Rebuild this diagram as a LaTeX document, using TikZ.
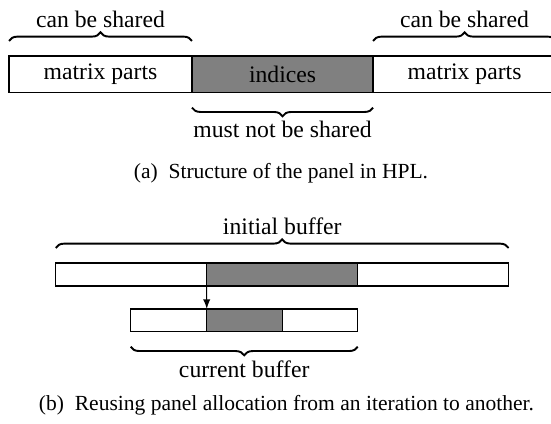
\documentclass[tikz,border=0pt]{standalone}
\usepackage{fontspec}
\setmainfont{Liberation Serif}
\usetikzlibrary{positioning,decorations.pathreplacing}

\tikzset{
  cell/.style={draw, line width=0.55pt, inner sep=0pt, outer sep=0pt, anchor=west, font=\fontsize{9.9}{12}\selectfont},
  idx/.style={cell, fill=black!50},
  lbl/.style={anchor=base, inner sep=0pt, font=\fontsize{9.9}{12}\selectfont},
  subcap/.style={anchor=base, inner sep=0pt, font=\fontsize{9}{11}\selectfont},
  brc/.style={decorate, decoration={brace, amplitude=3.6pt}, line width=0.8pt}
}

\begin{document}
\begin{tikzpicture}[x=0.418pt, y=-0.418pt]
\useasboundingbox (0,0) rectangle (551,424);

\node[cell, minimum width=76.5pt, minimum height=15.3pt] (partL) at (9,74.3) {matrix parts};
\node[idx, minimum width=75.7pt, minimum height=15.3pt, right=0pt of partL] (idxA) {indices};
\node[cell, minimum width=76.5pt, minimum height=15.3pt, right=0pt of idxA] (partR) {matrix parts};

\draw[brc] ([yshift=6.3pt]partL.north west) -- ([yshift=6.3pt]partL.north east);
\draw[brc] ([yshift=6.3pt]partR.north west) -- ([yshift=6.3pt]partR.north east);
\draw[brc] ([yshift=-6.3pt]idxA.south east) -- ([yshift=-6.3pt]idxA.south west);

\node[lbl] (shareL) at (100.5,27) {can be shared};
\node[lbl] (shareR) at (464.5,27) {can be shared};
\node[lbl] (noshare) at (282.5,138) {must not be shared};
\node[subcap] (capA) at (281,178) {(a)\enspace Structure of the panel in HPL.};

\node[cell, minimum width=63.1pt, minimum height=9.6pt] (initL) at (55.7,274.5) {};
\node[idx, minimum width=63.1pt, minimum height=9.6pt, right=0pt of initL] (initM) {};
\node[cell, minimum width=63.1pt, minimum height=9.6pt, right=0pt of initM] (initR) {};

\node[cell, minimum width=31.8pt, minimum height=9.5pt] (curL) at (130.7,320.3) {};
\node[idx, minimum width=31.6pt, minimum height=9.5pt, right=0pt of curL] (curM) {};
\node[cell, minimum width=31.5pt, minimum height=9.5pt, right=0pt of curM] (curR) {};

\draw[-latex, line width=0.4pt] (initM.south west) -- (curM.north west);

\draw[brc] ([yshift=6.3pt]initL.north west) -- ([yshift=6.3pt]initR.north east);
\draw[brc] ([yshift=-6.3pt]curR.south east) -- ([yshift=-6.3pt]curL.south west);

\node[lbl] (initbuf) at (282.3,235) {initial buffer};
\node[lbl] (curbuf) at (244.2,378) {current buffer};
\node[subcap] (capB) at (286.5,411) {(b)\enspace Reusing panel allocation from an iteration to another.};
\end{tikzpicture}
\end{document}
